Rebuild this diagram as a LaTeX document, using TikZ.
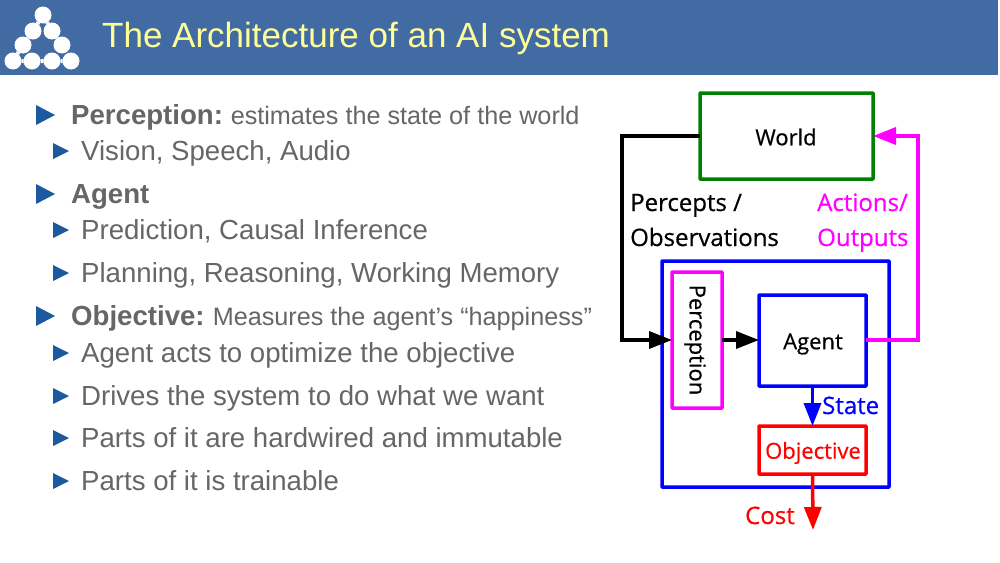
\documentclass[tikz,border=0pt]{standalone}
\usepackage{fontspec}
\setmainfont{Liberation Sans}
\newfontfamily\diagfont[FakeBold=0.6]{Open Sans}
\usetikzlibrary{arrows.meta}
\definecolor{hdr}{HTML}{436BA3}
\definecolor{ttl}{HTML}{FFFF99}
\definecolor{bul}{HTML}{1C5AA0}
\definecolor{txt}{HTML}{666666}
\definecolor{wgreen}{HTML}{008000}
\definecolor{mag}{RGB}{255,0,255}
\definecolor{pureblue}{RGB}{0,0,255}
\definecolor{purered}{RGB}{255,0,0}
\tikzset{
 x=1pt,y=-1pt,
 dot/.style={circle,fill=white,minimum size=17pt,inner sep=0pt,outer sep=0pt},
 lineA/.style={anchor=base west,text=txt,inner sep=0pt,font=\fontsize{27.6}{30}\selectfont},
 lineB/.style={anchor=base west,text=txt,inner sep=0pt,font=\fontsize{27.6}{30}\selectfont},
 box/.style={draw,line width=3.5pt,inner sep=0pt,outer sep=0pt,rounded corners=0.5pt,anchor=north west},
 boxt/.style={inner sep=0pt,font=\diagfont\fontsize{22}{24}\selectfont},
 lbl/.style={anchor=base west,inner sep=0pt,font=\diagfont\fontsize{24}{26}\selectfont},
 conn/.style={line width=3.5pt},
 arr/.style={conn,-{Triangle[length=23pt,width=17pt]}},
}
\newcommand{\bigbul}[1]{\fill[bul] (36,#1-10) -- (55,#1) -- (36,#1+10) -- cycle;}
\newcommand{\smallbul}[1]{\fill[bul] (53,#1-8) -- (69,#1) -- (53,#1+8) -- cycle;}
\begin{document}
\begin{tikzpicture}
\useasboundingbox (0,0) rectangle (1000,562);
\fill[white] (0,0) rectangle (1000,562);
\fill[hdr] (0,0) rectangle (998,75);
% logo
\foreach \n/\px/\py in {a/43/15,b/33/31,c/52/31,d/23/45,e/62/45,f/13/61,g/32/61,h/52/61,i/71/61}{
 \node[dot] (logo\n) at (\px,\py) {};
}
\draw[white,line width=4pt] (logoa) -- (logob) -- (logod) -- (logof) -- (logog) -- (logoh) -- (logoi);
\draw[white,line width=4pt] (logoa) -- (logoc) -- (logoe);
\node[anchor=base west,inner sep=0pt,text=ttl,font=\fontsize{35}{38}\selectfont] (title) at (102,47) {The Architecture of an AI system};
% bullets
\bigbul{115}\smallbul{151}\bigbul{194}\smallbul{230}\smallbul{273}\bigbul{316}\smallbul{353}\smallbul{396}\smallbul{438}\smallbul{481}
\node[lineA] (t1) at (71,124) {\textbf{Perception:}\hspace{-2.5pt} {\fontsize{25.2}{28}\selectfont estimates the state of the world}};
\node[lineB] (t2) at (81,160) {Vision, Speech, Audio};
\node[lineA] (t3) at (71,203) {\textbf{Agent}};
\node[lineB] (t4) at (81,239) {Prediction, Causal Inference};
\node[lineB] (t5) at (81,282) {Planning, Reasoning, Working Memory};
\node[lineA] (t6) at (71,325) {\textbf{Objective:}\hspace{-2pt} {\fontsize{25.2}{27}\selectfont Measures the agent’s “happiness”}};
\node[lineB] (t7) at (81,362) {Agent acts to optimize the objective};
\node[lineB] (t8) at (81,405) {Drives the system to do what we want};
\node[lineB] (t9) at (81,447) {Parts of it are hardwired and immutable};
\node[lineB] (t10) at (81,490) {Parts of it is trainable};
% diagram
\node[box,draw=pureblue,minimum width=227pt,minimum height=226pt] (outer) at (662,261) {};
\node[box,draw=wgreen,minimum width=173pt,minimum height=86pt] (world) at (700,93) {};
\node[boxt] (worldt) at (786,137) {World};
\node[box,draw=mag,minimum width=50pt,minimum height=136pt] (perc) at (672,272) {};
\node[boxt,rotate=-90] (perct) at (695,340) {Perception};
\node[box,draw=pureblue,minimum width=107pt,minimum height=91pt] (agent) at (759,295) {};
\node[boxt] (agentt) at (813,344) {Agent};
\node[box,draw=purered,minimum width=107pt,minimum height=48pt] (obj) at (759,426) {};
\node[boxt,text=purered] (objt) at (813,453) {Objective};
\coordinate (wl) at (world.west|-0,136);
\coordinate (wr) at (world.east|-0,136);
\coordinate (pl) at (perc.west|-0,340);
\coordinate (pr) at (perc.east|-0,340);
\coordinate (al) at (agent.west|-0,340);
\coordinate (ar) at (agent.east|-0,340);
\coordinate (cost) at (813,530);
\draw[arr,black] (wl) -- (622,136) -- (622,340) -- (pl);
\draw[arr,black] (pr) -- (al);
\draw[arr,mag] (ar) -- (918,340) -- (918,136) -- (wr);
\draw[arr,pureblue] (agent.south) -- (obj.north);
\draw[arr,purered] (obj.south) -- (cost);
\node[lbl] (pa) at (630,211) {Percepts /};
\node[lbl] (pb) at (630,246) {Observations};
\node[lbl,text=mag] (aa) at (817,211) {Actions/};
\node[lbl,text=mag] (ab) at (817,246) {Outputs};
\node[lbl,text=pureblue] (st) at (822,414) {State};
\node[lbl,text=purered] (co) at (745,524) {Cost};
\end{tikzpicture}
\end{document}
